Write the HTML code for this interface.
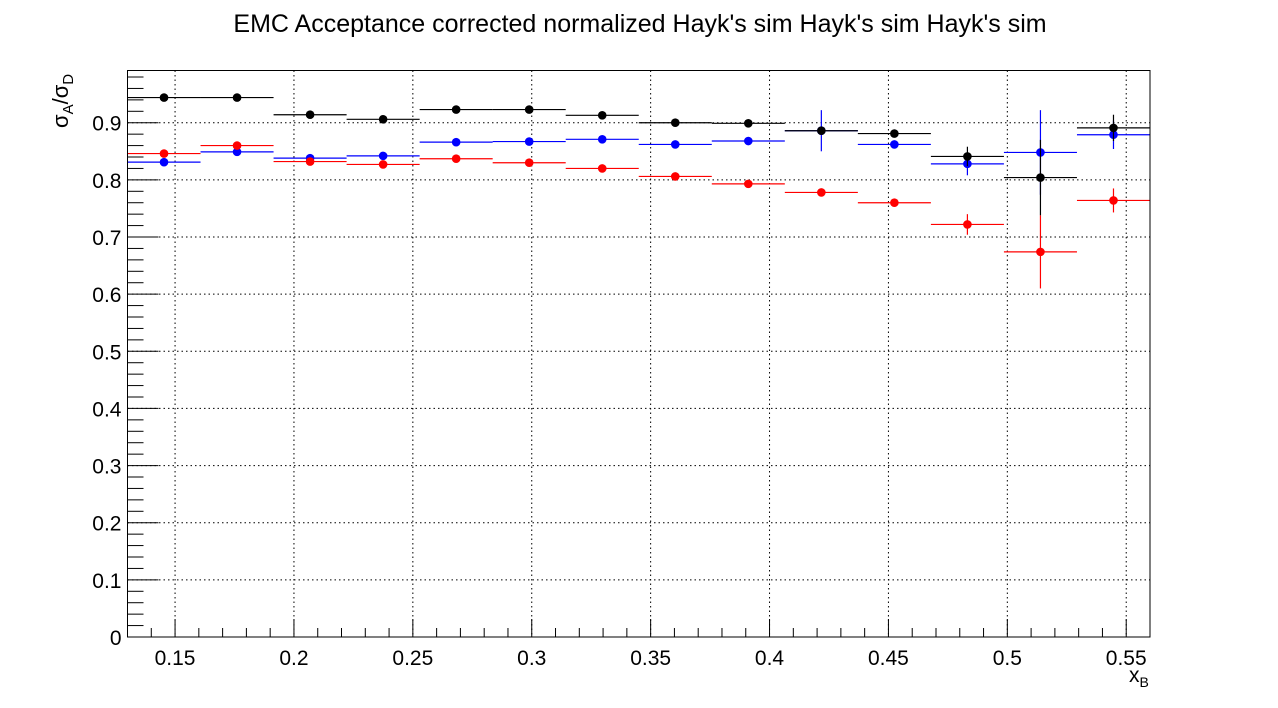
<!DOCTYPE html>
<html><head><meta charset="utf-8"><style>
html,body{margin:0;padding:0;background:#fff;}
svg{display:block;font-family:"Liberation Sans",sans-serif;}
</style></head><body>
<svg id="chart" width="1278" height="708" xmlns="http://www.w3.org/2000/svg">
<rect x="0" y="0" width="1278" height="708" fill="#fff"/>
<text x="640" y="32" font-size="25" text-anchor="middle" fill="#000">EMC Acceptance corrected normalized Hayk's sim Hayk's sim Hayk's sim</text>
<g id="grid"></g>
<g id="axes"></g>
<g id="series"></g>
<rect x="127.5" y="70.5" width="1022.5" height="566.5" fill="none" stroke="#000" stroke-width="1"/>
<text x="1129" y="682" font-size="21" fill="#000">x<tspan font-size="14" dy="5">B</tspan></text>
<text transform="translate(68,128) rotate(-90)" font-size="22" fill="#000">σ<tspan font-size="15" dy="5">A</tspan><tspan dy="-5">/σ</tspan><tspan font-size="15" dy="5">D</tspan></text>
</svg>
<script>
const xMin = 0.13, xMax = 0.56, nBins = 14;
const yMin = 0, yMax = 0.9914;
const xTicks = [0.15, 0.2, 0.25, 0.3, 0.35, 0.4, 0.45, 0.5, 0.55];
const xTickLabels = ["0.15","0.2","0.25","0.3","0.35","0.4","0.45","0.5","0.55"];
const yTicks = [0,0.1,0.2,0.3,0.4,0.5,0.6,0.7,0.8,0.9];
const yTickLabels = ["0","0.1","0.2","0.3","0.4","0.5","0.6","0.7","0.8","0.9"];
const blueVals = [0.831,0.849,0.838,0.842,0.866,0.867,0.871,0.862,0.868,0.886,0.862,0.828,0.848,0.879];
const blueErrs = [0.004,0.004,0.004,0.004,0.004,0.004,0.004,0.004,0.004,0.036,0.005,0.02,0.074,0.025];
const redVals = [0.846,0.860,0.832,0.827,0.837,0.830,0.820,0.806,0.793,0.778,0.760,0.722,0.674,0.764];
const redErrs = [0.005,0.005,0.005,0.005,0.004,0.004,0.004,0.004,0.004,0.004,0.004,0.018,0.064,0.021];
const blackVals = [0.944,0.944,0.914,0.906,0.923,0.923,0.913,0.900,0.899,0.886,0.881,0.841,0.804,0.891];
const blackErrs = [0.004,0.004,0.004,0.004,0.004,0.004,0.004,0.004,0.004,0.0,0.004,0.017,0.066,0.023];

const L=127.5, R=1150, T=70.5, B=637;
const NS="http://www.w3.org/2000/svg";
function X(v){return L+(v-xMin)/(xMax-xMin)*(R-L);}
function Y(v){return B-(v-yMin)/(yMax-yMin)*(B-T);}
function mk(tag,attrs,parent){const e=document.createElementNS(NS,tag);for(const k in attrs)e.setAttribute(k,attrs[k]);parent.appendChild(e);return e;}
const grid=document.getElementById('grid'), axes=document.getElementById('axes'), series=document.getElementById('series');

xTicks.forEach((t,i)=>{
  const gl=mk('line',{x1:X(t),x2:X(t),y1:T,y2:B,stroke:'#000','stroke-width':1,'stroke-dasharray':'1.5,3'},grid);
  
  
  const tk=mk('line',{x1:X(t),x2:X(t),y1:B,y2:B-18,stroke:'#000','stroke-width':1},axes);
  
  
  const lb=mk('text',{x:X(t),y:B+28,'font-size':21,'text-anchor':'middle',fill:'#000'},axes);
  lb.textContent=xTickLabels[i];
  
  
});
for(let k=14;k<=55;k++){const v=k/100; if(k%5===0)continue;
  const m=mk('line',{x1:X(v),x2:X(v),y1:B,y2:B-9,stroke:'#000','stroke-width':1},axes);
  
  
}
yTicks.forEach((t,i)=>{
  if(t>0){const gl=mk('line',{x1:L,x2:R,y1:Y(t),y2:Y(t),stroke:'#000','stroke-width':1,'stroke-dasharray':'1.5,3'},grid);
  
  }
  const tk=mk('line',{x1:L,x2:L+31,y1:Y(t),y2:Y(t),stroke:'#000','stroke-width':1},axes);
  
  
  const lb=mk('text',{x:L-6,y:Y(t)+8,'font-size':21,'text-anchor':'end',fill:'#000'},axes);
  lb.textContent=yTickLabels[i];
  
  
});
for(let k=2;k<=98;k+=2){ if(k%10===0)continue; const v=k/100;
  const m=mk('line',{x1:L,x2:L+16,y1:Y(v),y2:Y(v),stroke:'#000','stroke-width':1},axes);
  
  
}
const bw=(xMax-xMin)/nBins;
function drawSeries(vals,errs,color,name){
  const g=mk('g',{},series);
  
  
  vals.forEach((v,i)=>{
    const x0=xMin+i*bw, xc=x0+bw/2;
    const h=mk('line',{x1:X(x0),x2:X(x0+bw),y1:Y(v),y2:Y(v),stroke:color,'stroke-width':1.2},g);
    
    
    if(errs[i]>0){const e=mk('line',{x1:X(xc),x2:X(xc),y1:Y(v+errs[i]),y2:Y(v-errs[i]),stroke:color,'stroke-width':1.2},g);
    
    }
    const c=mk('circle',{cx:X(xc),cy:Y(v),r:4.3,fill:color},g);
    
    
  });
}
drawSeries(blueVals,blueErrs,'#0000ff','blue');
drawSeries(redVals,redErrs,'#ff0000','red');
drawSeries(blackVals,blackErrs,'#000000','black');
</script>
</body></html>
